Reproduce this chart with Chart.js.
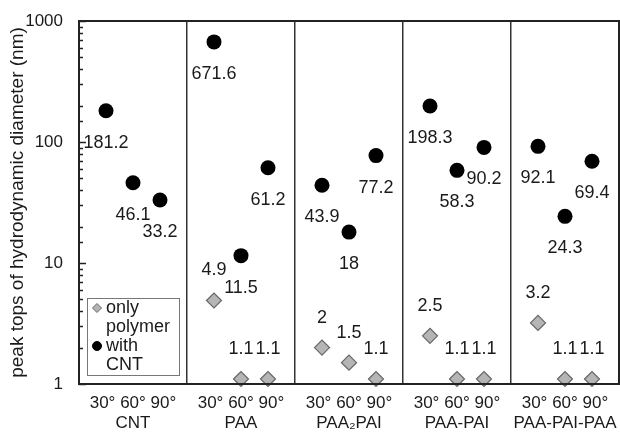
<!DOCTYPE html>
<html>
<head>
<meta charset="utf-8">
<script src="https://cdn.jsdelivr.net/npm/chart.js@4.4.0/dist/chart.umd.min.js"></script>
<style>
  body { margin: 0; background: #fff; overflow: hidden; }
  canvas { display: block; }
</style>
</head>
<body>
<canvas id="chart" width="620" height="433"></canvas>
<script>
// samples and scattering angles
const groups = ['CNT', 'PAA', 'PAA\u2082PAI', 'PAA-PAI', 'PAA-PAI-PAA'];
const angles = ['30\u00b0', '60\u00b0', '90\u00b0'];

// peak tops (nm), three angles per group
const withCNT = [181.2, 46.1, 33.2, 671.6, 11.5, 61.2, 43.9, 18, 77.2, 198.3, 58.3, 90.2, 92.1, 24.3, 69.4];
const onlyPolymer = [null, null, null, 4.9, 1.1, 1.1, 2, 1.5, 1.1, 2.5, 1.1, 1.1, 3.2, 1.1, 1.1];

const yMin = 1;
const yMax = 1000;

const FONT = '"Liberation Sans", Arial, "DejaVu Sans", sans-serif';
const TEXT = '#1a1a1a';

// x position: 4 units per group, angles at 1, 2, 3
const toPoints = (arr) => arr
  .map((v, i) => ({ x: Math.floor(i / 3) * 4 + (i % 3) + 1, y: v }))
  .filter(p => p.y !== null);

const isDecade = (v) => Math.abs(Math.log10(v) - Math.round(Math.log10(v))) < 1e-9;

// value labels next to the points
const valueLabels = {
  id: 'valueLabels',
  afterDatasetsDraw(chart) {
    const ctx = chart.ctx;
    ctx.save();
    ctx.font = '18px ' + FONT;
    ctx.fillStyle = TEXT;
    ctx.textAlign = 'center';
    ctx.textBaseline = 'middle';
    chart.data.datasets.forEach((ds, di) => {
      const meta = chart.getDatasetMeta(di);
      meta.data.forEach((el, i) => {
        ctx.fillText(String(ds.data[i].y), el.x, el.y + ds.labelOffset);
      });
    });
    ctx.restore();
  }
};

// frame, inward y ticks, legend box
const frame = {
  id: 'frame',
  afterDraw(chart) {
    const ctx = chart.ctx;
    const a = chart.chartArea;
    const y = chart.scales.y;
    ctx.save();
    ctx.strokeStyle = '#222';
    ctx.lineWidth = 1.5;
    y.ticks.forEach(t => {
      const py = Math.round(y.getPixelForValue(t.value)) + 0.5;
      const len = isDecade(t.value) ? 7 : 4;
      ctx.beginPath();
      ctx.moveTo(a.left, py);
      ctx.lineTo(a.left + len, py);
      ctx.stroke();
    });
    ctx.lineWidth = 2;
    ctx.strokeRect(a.left, a.top, a.right - a.left, a.bottom - a.top);

    // legend
    const bx = a.left + 8, by = a.bottom - 86, bw = 92, bh = 77;
    ctx.fillStyle = '#fff';
    ctx.fillRect(bx, by, bw, bh);
    ctx.strokeStyle = '#777';
    ctx.lineWidth = 1;
    ctx.strokeRect(bx + 0.5, by + 0.5, bw, bh);
    const rows = [
      { ds: 0, lines: ['only', 'polymer'] },
      { ds: 1, lines: ['with', 'CNT'] }
    ];
    ctx.font = '18px ' + FONT;
    ctx.textAlign = 'left';
    ctx.textBaseline = 'middle';
    let ly = by + 10;
    rows.forEach(r => {
      const ds = chart.data.datasets[r.ds];
      const cx = bx + 10, r0 = 4.5;
      ctx.fillStyle = ds.backgroundColor;
      ctx.strokeStyle = ds.borderColor;
      ctx.lineWidth = 1;
      ctx.beginPath();
      if (ds.pointStyle === 'circle') {
        ctx.arc(cx, ly, r0, 0, Math.PI * 2);
      } else {
        ctx.moveTo(cx - r0, ly);
        ctx.lineTo(cx, ly - r0);
        ctx.lineTo(cx + r0, ly);
        ctx.lineTo(cx, ly + r0);
        ctx.closePath();
      }
      ctx.fill();
      ctx.stroke();
      ctx.fillStyle = TEXT;
      r.lines.forEach((s, k) => {
        ctx.fillText(s, bx + 19, ly + k * 19);
      });
      ly += 38;
    });
    ctx.restore();
  }
};

new Chart(document.getElementById('chart'), {
  type: 'scatter',
  data: {
    datasets: [
      {
        label: 'only polymer',
        data: toPoints(onlyPolymer),
        pointStyle: 'rectRot',
        pointRadius: 7.5,
        pointHoverRadius: 7.5,
        backgroundColor: '#b5b5b5',
        borderColor: '#666',
        borderWidth: 1.2,
        labelOffset: -30,
        clip: false
      },
      {
        label: 'with CNT',
        data: toPoints(withCNT),
        pointStyle: 'circle',
        pointRadius: 7.5,
        pointHoverRadius: 7.5,
        backgroundColor: '#000',
        borderColor: '#000',
        borderWidth: 0,
        labelOffset: 32,
        clip: false
      }
    ]
  },
  options: {
    responsive: false,
    animation: false,
    layout: { autoPadding: false, padding: { top: 21, right: 1, left: 0, bottom: 0 } },
    plugins: {
      legend: { display: false },
      tooltip: { enabled: false }
    },
    scales: {
      x: {
        type: 'linear',
        min: 0,
        max: groups.length * 4,
        afterFit: (s) => { s.height = 49; s.paddingLeft = 0; s.paddingRight = 0; },
        border: { display: false },
        grid: {
          drawTicks: false,
          lineWidth: 1.5,
          color: (c) => (c.tick && c.tick.value % 4 === 0) ? '#333' : 'rgba(0,0,0,0)'
        },
        ticks: {
          stepSize: 1,
          autoSkip: false,
          maxRotation: 0,
          padding: 9,
          color: TEXT,
          font: { family: FONT, size: 17 },
          callback: (v) => v % 4 === 2 ? [angles.join(' '), groups[Math.floor(v / 4)]] : ''
        }
      },
      y: {
        type: 'logarithmic',
        min: yMin,
        max: yMax,
        afterFit: (s) => { s.width = 79; s.paddingTop = 0; s.paddingBottom = 0; },
        border: { display: false },
        grid: { display: false, drawTicks: false },
        ticks: {
          autoSkip: false,
          padding: 16,
          color: TEXT,
          font: { family: FONT, size: 17 },
          callback: (v) => isDecade(v) ? String(v) : ''
        },
        title: {
          display: true,
          text: 'peak tops of hydrodynamic diameter (nm)',
          color: TEXT,
          font: { family: FONT, size: 19 },
          padding: { top: 6, bottom: 0 }
        }
      }
    }
  },
  plugins: [valueLabels, frame]
});
</script>
</body>
</html>
